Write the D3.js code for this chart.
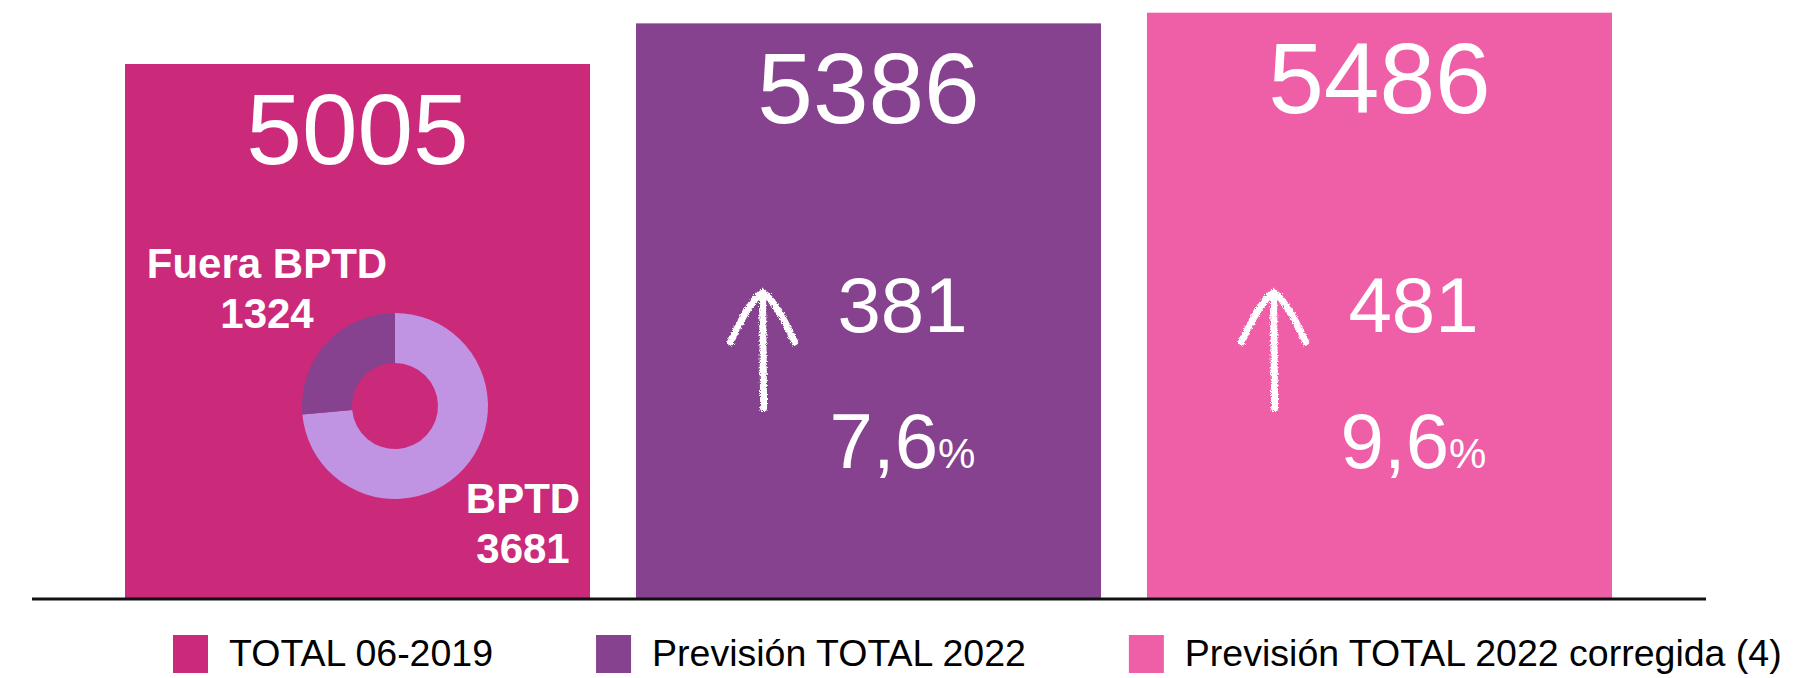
<!DOCTYPE html>
<html>
<head>
<meta charset="utf-8">
<script src="https://cdn.jsdelivr.net/npm/d3@7"></script>
<style>
  html, body { margin: 0; padding: 0; background: #fff; }
  svg { display: block; font-family: Helvetica, Arial, "Liberation Sans", sans-serif; }
</style>
</head>
<body>
<svg id="chart" width="1793" height="678"></svg>
<script>
// chart data
const categories = ['TOTAL 06-2019', 'Previsión TOTAL 2022', 'Previsión TOTAL 2022 corregida (4)'];
const totals = [5005, 5386, 5486];
const increments = [null, 381, 481];
const pctIncrements = [null, '7,6', '9,6'];
const barColors = ['#cb2a7b', '#86418f', '#ee5fa7'];

// breakdown of the first bar
const splitLabels = ['BPTD', 'Fuera BPTD'];
const splitValues = [3681, 1324];
const splitColors = ['#c094e3', '#86418f'];

const svg = d3.select('#chart');
const baseY = 598;

const x = d3.scaleBand()
    .domain(categories)
    .range([125, 1612])
    .paddingInner(0.09)
    .paddingOuter(0);

const y = d3.scaleLinear()
    .domain([0, 5605])
    .range([baseY, 0]);

// chalk look for the hand drawn arrows
const defs = svg.append('defs');
const chalk = defs.append('filter')
    .attr('id', 'chalk')
    .attr('x', '-20%').attr('y', '-20%')
    .attr('width', '140%').attr('height', '140%');
chalk.append('feTurbulence')
    .attr('type', 'fractalNoise')
    .attr('baseFrequency', 0.9)
    .attr('numOctaves', 2)
    .attr('result', 'noise');
chalk.append('feDisplacementMap')
    .attr('in', 'SourceGraphic')
    .attr('in2', 'noise')
    .attr('scale', 5)
    .attr('xChannelSelector', 'R')
    .attr('yChannelSelector', 'G');

const rows = categories.map((c, i) => ({
    cat: c,
    total: totals[i],
    inc: increments[i],
    pct: pctIncrements[i],
    color: barColors[i]
}));

// bars
svg.selectAll('rect.bar')
    .data(rows)
    .enter()
    .append('rect')
    .classed('bar', true)
    .attr('x', d => x(d.cat))
    .attr('y', d => y(d.total))
    .attr('width', x.bandwidth())
    .attr('height', d => baseY - y(d.total))
    .attr('fill', d => d.color);

// totals on top of each bar
svg.selectAll('text.total')
    .data(rows)
    .enter()
    .append('text')
    .classed('total', true)
    .attr('x', d => x(d.cat) + x.bandwidth() / 2)
    .attr('y', d => y(d.total) + 100)
    .attr('text-anchor', 'middle')
    .attr('fill', '#fff')
    .attr('font-size', 100)
    .text(d => d.total);

// increments with arrows
const growth = rows.filter(d => d.inc !== null);

const g = svg.selectAll('g.growth')
    .data(growth)
    .enter()
    .append('g')
    .classed('growth', true)
    .attr('transform', d => `translate(${x(d.cat) + x.bandwidth() / 2},0)`);

g.append('text')
    .attr('x', 34)
    .attr('y', 332)
    .attr('text-anchor', 'middle')
    .attr('fill', '#fff')
    .attr('font-size', 78)
    .text(d => d.inc);

const pctText = g.append('text')
    .attr('x', 34)
    .attr('y', 468)
    .attr('text-anchor', 'middle')
    .attr('fill', '#fff')
    .attr('font-size', 78);
pctText.append('tspan').text(d => d.pct);
pctText.append('tspan').attr('font-size', 42).text('%');

// arrow sits a fixed distance left of the percentage
g.each(function () {
    const grp = d3.select(this);
    const left = grp.select('text:last-of-type').node().getBBox().x;
    const arrow = grp.append('g')
        .attr('transform', `translate(${left - 67},0)`)
        .attr('filter', 'url(#chalk)')
        .attr('fill', 'none')
        .attr('stroke', '#fff')
        .attr('stroke-width', 7)
        .attr('stroke-linecap', 'round')
        .attr('stroke-linejoin', 'round');
    arrow.append('path').attr('d', 'M1,408 L0,296');
    arrow.append('path').attr('d', 'M-32,342 Q-14,302 0,292 Q14,302 32,342');
});

// donut for the first bar
const pie = d3.pie().sort(null).value(d => d.value);
const arc = d3.arc().innerRadius(43).outerRadius(93);
const split = splitLabels.map((l, i) => ({ label: l, value: splitValues[i], color: splitColors[i] }));

const cx = x(categories[0]) + 270;
const cy = 406;
const donut = svg.append('g').attr('transform', `translate(${cx},${cy})`);
donut.selectAll('path')
    .data(pie(split))
    .enter()
    .append('path')
    .attr('d', arc)
    .attr('fill', d => d.data.color);

const labelPos = { 'BPTD': [128, 107], 'Fuera BPTD': [-128, -128] };
split.forEach(s => {
    const p = labelPos[s.label];
    const t = donut.append('text')
        .attr('text-anchor', 'middle')
        .attr('fill', '#fff')
        .attr('font-size', 42)
        .attr('font-weight', 'bold');
    t.append('tspan').attr('x', p[0]).attr('y', p[1]).text(s.label);
    t.append('tspan').attr('x', p[0]).attr('y', p[1] + 50).text(s.value);
});

// baseline
svg.append('line')
    .attr('x1', 32)
    .attr('x2', 1706)
    .attr('y1', baseY + 1)
    .attr('y2', baseY + 1)
    .attr('stroke', '#111')
    .attr('stroke-width', 3);

// legend
const legend = svg.append('g').attr('transform', 'translate(173,635)');
let lx = 0;
rows.forEach(d => {
    const item = legend.append('g').attr('transform', `translate(${lx},0)`);
    item.append('rect')
        .attr('width', 35)
        .attr('height', 38)
        .attr('fill', d.color);
    const t = item.append('text')
        .attr('x', 56)
        .attr('y', 31)
        .attr('font-size', 37.5)
        .attr('fill', '#000')
        .text(d.cat);
    lx += 56 + t.node().getComputedTextLength() + 103;
});
</script>
</body>
</html>
